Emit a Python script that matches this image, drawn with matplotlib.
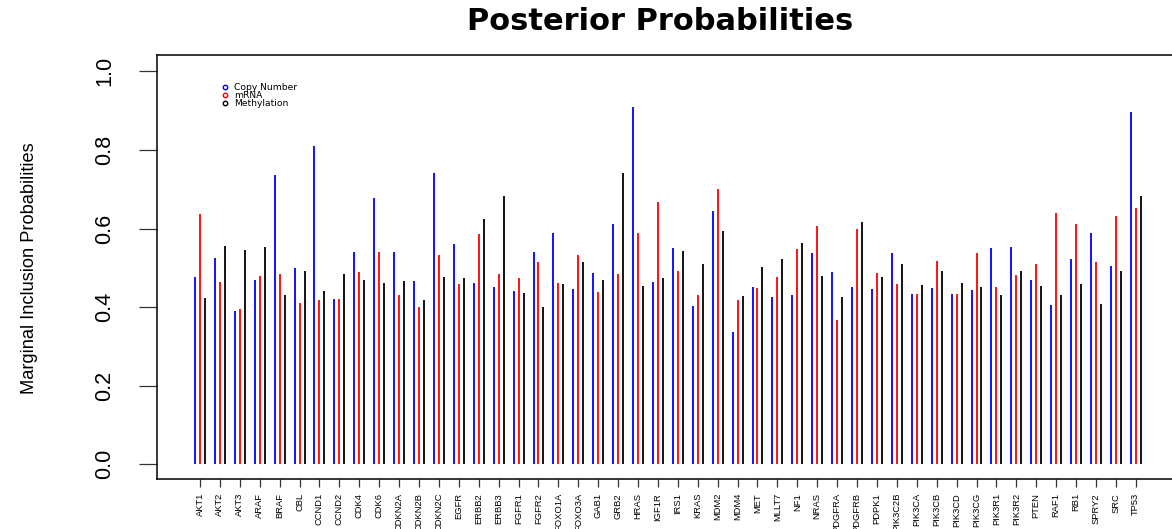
import numpy as np
import matplotlib
matplotlib.use('Agg')
import matplotlib.pyplot as plt
from matplotlib import font_manager
from matplotlib.lines import Line2D

genes = ['AKT1', 'AKT2', 'AKT3', 'ARAF', 'BRAF', 'CBL', 'CCND1', 'CCND2', 'CDK4', 'CDK6',
         'CDKN2A', 'CDKN2B', 'CDKN2C', 'EGFR', 'ERBB2', 'ERBB3', 'FGFR1', 'FGFR2', 'FOXO1A',
         'FOXO3A', 'GAB1', 'GRB2', 'HRAS', 'IGF1R', 'IRS1', 'KRAS', 'MDM2', 'MDM4', 'MET',
         'MLLT7', 'NF1', 'NRAS', 'PDGFRA', 'PDGFRB', 'PDPK1', 'PIK3C2B', 'PIK3CA', 'PIK3CB',
         'PIK3CD', 'PIK3CG', 'PIK3R1', 'PIK3R2', 'PTEN', 'RAF1', 'RB1', 'SPRY2', 'SRC', 'TP53']

copy_number = [0.476, 0.524, 0.389, 0.469, 0.735, 0.500, 0.811, 0.420, 0.540, 0.678,
               0.540, 0.466, 0.740, 0.560, 0.461, 0.451, 0.440, 0.540, 0.589,
               0.446, 0.488, 0.611, 0.910, 0.464, 0.550, 0.403, 0.645, 0.337, 0.451,
               0.426, 0.431, 0.537, 0.489, 0.450, 0.446, 0.537, 0.433, 0.448,
               0.434, 0.443, 0.550, 0.552, 0.468, 0.405, 0.522, 0.589, 0.505, 0.897]

mrna = [0.636, 0.463, 0.394, 0.480, 0.483, 0.410, 0.417, 0.421, 0.489, 0.539,
        0.430, 0.399, 0.532, 0.460, 0.585, 0.483, 0.474, 0.516, 0.462,
        0.533, 0.439, 0.484, 0.588, 0.667, 0.492, 0.432, 0.701, 0.417, 0.449,
        0.476, 0.549, 0.607, 0.367, 0.599, 0.488, 0.459, 0.433, 0.517,
        0.434, 0.538, 0.452, 0.481, 0.509, 0.639, 0.612, 0.516, 0.631, 0.651]

methylation = [0.423, 0.555, 0.546, 0.552, 0.432, 0.492, 0.440, 0.483, 0.469, 0.461,
               0.466, 0.419, 0.477, 0.473, 0.623, 0.682, 0.437, 0.401, 0.459,
               0.516, 0.468, 0.740, 0.454, 0.473, 0.544, 0.509, 0.594, 0.429, 0.502,
               0.522, 0.563, 0.478, 0.426, 0.616, 0.477, 0.510, 0.455, 0.493,
               0.462, 0.450, 0.431, 0.492, 0.454, 0.432, 0.460, 0.407, 0.492, 0.682]

# condensed font if present
try:
    font_manager.findfont(font_manager.FontProperties(family='Liberation Sans Narrow'),
                          fallback_to_default=False)
    narrow = 'Liberation Sans Narrow'
    k = 1.0
except Exception:
    narrow = 'Liberation Sans'
    k = 0.82

W, H = 1172, 529
fig = plt.figure(figsize=(W / 100, H / 100), dpi=100)
ax = fig.add_axes([157 / W, (H - 479) / H, (1176 - 157) / W, (479 - 55) / H])

x = np.arange(len(genes))
ax.vlines(x - 0.25, 0, copy_number, color='#0000ff', lw=1.3)
ax.vlines(x, 0, mrna, color='#ff0000', lw=1.3)
ax.vlines(x + 0.25, 0, methylation, color='black', lw=1.3)

ax.set_xlim(-2.16, 49.02)
ax.set_ylim(-0.0374, 1.0415)

ax.set_yticks([0.0, 0.2, 0.4, 0.6, 0.8, 1.0])
ax.set_yticklabels(['0.0', '0.2', '0.4', '0.6', '0.8', '1.0'], rotation=90,
                   va='center', family=narrow, fontsize=19 * k)
ax.tick_params(axis='y', direction='out', length=13, width=0.9, pad=17, color='#333333')

ax.set_xticks(x)
ax.set_xticklabels(genes, rotation=90, family=narrow, fontsize=8.2 * k)
ax.tick_params(axis='x', direction='out', length=6, width=0.9, pad=4, color='#333333')

for s in ax.spines.values():
    s.set_linewidth(1.1)

fig.text(30 / W, 1 - 268 / H, 'Marginal Inclusion Probabilities', rotation=90,
         ha='center', va='center', family=narrow, fontsize=16 * k)

fig.text(660 / W, 1 - 22 / H, 'Posterior Probabilities', ha='center', va='center',
         family='DejaVu Sans', fontweight='bold', fontsize=22)

handles = [Line2D([], [], ls='none', marker='o', ms=3.2, mfc='none', mew=1, mec=c)
           for c in ['#0000ff', '#ff0000', 'black']]
ax.legend(handles, ['Copy Number', 'mRNA', 'Methylation'], loc='upper left',
          bbox_to_anchor=(219 / W, 1 - 83 / H), bbox_transform=fig.transFigure,
          frameon=False, prop={'family': 'DejaVu Sans', 'size': 6.6},
          labelspacing=-0.12, handlelength=1.2, handletextpad=0.45,
          borderpad=0, borderaxespad=0)

fig.savefig('out.png', dpi=100)
